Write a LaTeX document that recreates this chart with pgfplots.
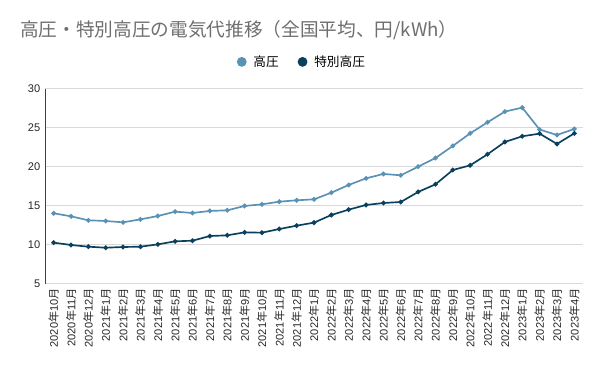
\documentclass[border=0pt]{standalone}
\usepackage{fontspec}
\setmainfont{Liberation Sans}
\newfontfamily\cjk{Noto Sans CJK JP}
\usepackage{pgfplots}
\pgfplotsset{compat=1.18}
\definecolor{lightb}{RGB}{89,146,180}
\definecolor{darkb}{RGB}{10,64,94}
\definecolor{gridg}{RGB}{217,217,217}
\definecolor{titleg}{RGB}{110,110,110}
\newcommand{\ym}[2]{#1{\cjk 年}#2{\cjk 月}}
\pgfplotsset{circleleg/.style={legend image code/.code={\path[draw=none,fill=none] (-3.8pt,0pt) rectangle (6.8pt,0.1pt); \fill[##1, draw=none] (0pt,0pt) circle (3.7pt);}}}
\begin{document}
\begin{tikzpicture}
\useasboundingbox (0,0) rectangle (451.5pt,279pt);
\node[anchor=west, inner sep=0pt, text=titleg, font=\cjk\fontsize{14pt}{17pt}\selectfont] at (15pt,256.5pt) {高圧・特別高圧の電気代推移（全国平均、円/kWh）};
\begin{axis}[
  at={(33.75pt,66.3pt)}, anchor=south west,
  scale only axis, width=403.5pt, height=146pt,
  xmin=-0.5, xmax=30.5, ymin=5, ymax=30,
  ytick={5,10,15,20,25,30},
  xtick={0,...,30},
  xticklabels={\ym{2020}{10},\ym{2020}{11},\ym{2020}{12},\ym{2021}{1},\ym{2021}{2},\ym{2021}{3},\ym{2021}{4},\ym{2021}{5},\ym{2021}{6},\ym{2021}{7},\ym{2021}{8},\ym{2021}{9},\ym{2021}{10},\ym{2021}{11},\ym{2021}{12},\ym{2022}{1},\ym{2022}{2},\ym{2022}{3},\ym{2022}{4},\ym{2022}{5},\ym{2022}{6},\ym{2022}{7},\ym{2022}{8},\ym{2022}{9},\ym{2022}{10},\ym{2022}{11},\ym{2022}{12},\ym{2023}{1},\ym{2023}{2},\ym{2023}{3},\ym{2023}{4}},
  xticklabel style={rotate=90, anchor=east, font=\fontsize{8.3pt}{10pt}\selectfont, text=black!85},
  yticklabel style={font=\fontsize{8.3pt}{10pt}\selectfont, text=black!85},
  /pgf/number format/assume math mode=true,
  major tick length=0pt,
  ymajorgrids, grid style={gridg, line width=0.8pt},
  axis x line*=bottom, axis y line*=left,
  x axis line style={draw=gridg, line width=0.8pt, -},
  y axis line style={draw=black!75, line width=0.6pt, -},
  legend columns=2,
  legend style={draw=none, fill=none, at={(0.478,1.139)}, anchor=center,
    font=\cjk\fontsize{9.5pt}{10pt}\selectfont,
    /tikz/every even column/.append style={column sep=12pt}},
]
\addplot[color=lightb, line width=1.25pt, mark=*, mark size=1.1pt, circleleg] coordinates {
(0,14.03)(1,13.64)(2,13.13)(3,13.04)(4,12.87)(5,13.25)(6,13.68)(7,14.24)(8,14.07)(9,14.33)(10,14.41)(11,14.97)(12,15.18)(13,15.52)(14,15.70)(15,15.82)(16,16.68)(17,17.67)(18,18.52)(19,19.08)(20,18.91)(21,20.02)(22,21.13)(23,22.68)(24,24.30)(25,25.72)(26,27.09)(27,27.60)(28,24.78)(29,24.09)(30,24.86)};
\addlegendentry{高圧}
\addplot[color=darkb, line width=1.25pt, mark=*, mark size=1.1pt, circleleg] coordinates {
(0,10.26)(1,9.96)(2,9.74)(3,9.61)(4,9.70)(5,9.74)(6,10.04)(7,10.43)(8,10.51)(9,11.11)(10,11.20)(11,11.58)(12,11.54)(13,12.01)(14,12.44)(15,12.83)(16,13.81)(17,14.50)(18,15.10)(19,15.35)(20,15.48)(21,16.77)(22,17.75)(23,19.59)(24,20.19)(25,21.61)(26,23.19)(27,23.92)(28,24.26)(29,22.93)(30,24.30)};
\addlegendentry{特別高圧}
\end{axis}
\end{tikzpicture}
\end{document}
